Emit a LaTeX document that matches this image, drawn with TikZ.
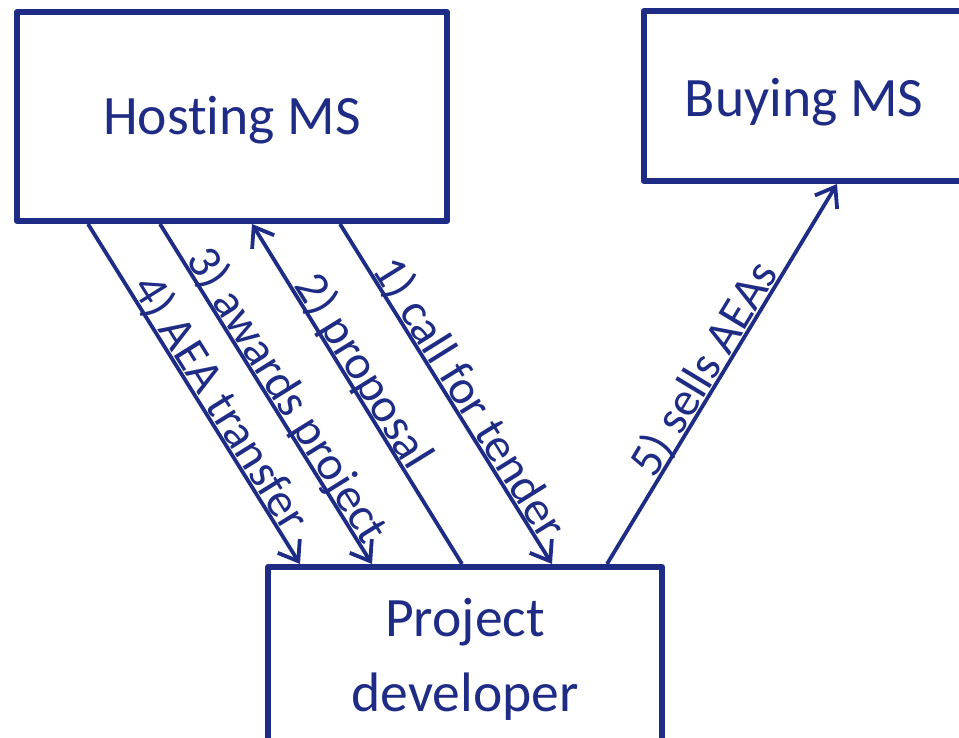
\documentclass[tikz,border=0pt]{standalone}
\usepackage{fontspec}
\setmainfont{Carlito}[Ligatures=NoCommon]
\usetikzlibrary{arrows.meta,calc}
\definecolor{navy}{RGB}{31,44,133}
\begin{document}
\begin{tikzpicture}[x=1pt,y=-1pt,
  >={Straight Barb[length=18pt,width=26pt]},
  box/.style={draw=navy, line width=6pt, line join=round, rectangle, text=navy,
    align=center, inner sep=0pt, font=\fontsize{55.6}{75}\selectfont},
  flow/.style={draw=navy, line width=3.8pt},
  lbl/.style={sloped, anchor=base, inner sep=0pt, yshift=3pt, text=navy,
    font=\fontsize{48}{50}\selectfont}]
\useasboundingbox (0,0) rectangle (959,738);
\clip (0,0) rectangle (959,738);

% the three parties
\node[box, minimum width=430pt, minimum height=209pt, text height=37pt, text depth=0pt]
  (H) at (232,116.5) {Hosting MS};
\node[box, minimum width=320pt, minimum height=170pt, text height=42pt, text depth=0pt]
  (B) at (804,96) {Buying MS};
\node[box, minimum width=394pt, minimum height=184pt]
  (D) at (465,659) {Project\\developer};

% numbered steps between them
\draw[flow,->] ([xshift=74pt]H.south west) --
  node[lbl, pos=0.555] {4) AEA transfer} ([xshift=35pt]D.north west);
\draw[flow,->] ([xshift=146pt]H.south west) --
  node[lbl, pos=0.53] {3) awards project} ([xshift=107pt]D.north west);
\draw[flow,<-] ([xshift=238pt]H.south west) --
  node[lbl, pos=0.46] {2) proposal} ([xshift=197pt]D.north west);
\draw[flow,->] ([xshift=326pt]H.south west) --
  node[lbl, pos=0.54] {1) call for tender} ([xshift=287pt]D.north west);
\draw[flow,->] ([xshift=342pt]D.north west) --
  node[lbl, pos=0.49] {5) sells AEAs} ([xshift=196pt]B.south west);
\end{tikzpicture}
\end{document}
